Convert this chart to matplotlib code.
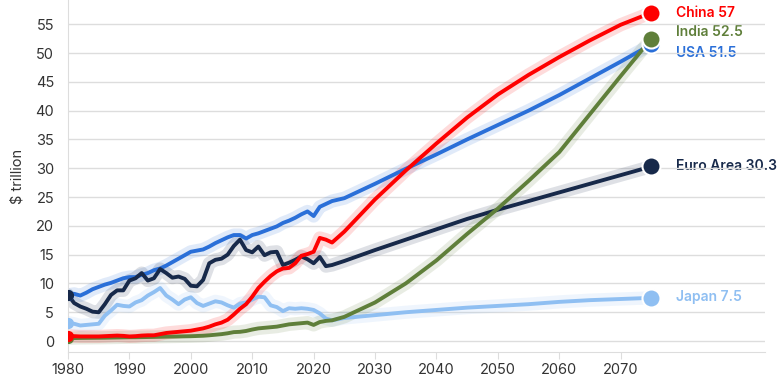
import numpy as np
from matplotlib import pyplot as plt

# Real GDP, $ trillion: history 1980-2023, projections every 5 years to 2075
histYears = list(range(1980, 2024))
projYears = [2025, 2030, 2035, 2040, 2045, 2050, 2055, 2060, 2065, 2070, 2075]

usaHist = [8.0, 8.2, 7.9, 8.4, 9.0, 9.4, 9.8, 10.1, 10.5, 10.9, 11.1, 11.1, 11.5, 11.8, 12.3,
           12.6, 13.1, 13.7, 14.3, 14.9, 15.5, 15.7, 15.9, 16.4, 17.0, 17.5, 18.0, 18.4, 18.4,
           17.8, 18.4, 18.7, 19.1, 19.5, 19.9, 20.5, 20.9, 21.4, 22.0, 22.5, 21.7, 23.3, 23.8, 24.3]
usaProj = [24.8, 27.3, 29.9, 32.4, 35.0, 37.5, 40.0, 42.7, 45.6, 48.5, 51.5]

euroHist = [8.0, 6.6, 6.0, 5.6, 5.1, 5.0, 6.4, 8.0, 8.8, 8.8, 10.5, 10.9, 11.8, 10.5, 10.9,
            12.5, 11.8, 11.0, 11.2, 10.8, 9.6, 9.5, 10.6, 13.5, 14.1, 14.3, 15.0, 16.5, 17.6,
            15.8, 15.4, 16.4, 14.9, 15.4, 15.5, 13.2, 13.6, 14.1, 14.7, 14.2, 13.5, 14.6, 13.0, 13.2]
euroProj = [13.9, 15.8, 17.6, 19.4, 21.2, 22.8, 24.3, 25.8, 27.3, 28.8, 30.3]

chinaHist = [0.9, 0.85, 0.8, 0.8, 0.8, 0.8, 0.85, 0.9, 0.95, 0.9, 0.8, 0.85, 0.95, 1.0, 1.0,
             1.2, 1.4, 1.5, 1.6, 1.7, 1.8, 2.0, 2.2, 2.5, 2.9, 3.2, 3.7, 4.6, 5.6, 6.4, 7.7,
             9.2, 10.3, 11.3, 12.1, 12.6, 12.7, 13.5, 14.8, 15.1, 15.5, 17.9, 17.6, 17.1]
chinaProj = [19.0, 24.6, 29.6, 34.3, 38.8, 42.8, 46.2, 49.3, 52.2, 54.9, 57.0]

indiaHist = [0.5, 0.52, 0.54, 0.55, 0.56, 0.57, 0.58, 0.6, 0.62, 0.64, 0.66, 0.66, 0.68, 0.7,
             0.72, 0.74, 0.76, 0.78, 0.8, 0.82, 0.84, 0.88, 0.92, 1.0, 1.1, 1.2, 1.35, 1.55,
             1.6, 1.75, 2.0, 2.2, 2.3, 2.4, 2.5, 2.7, 2.9, 3.0, 3.1, 3.2, 2.8, 3.3, 3.5, 3.6]
indiaProj = [4.2, 6.7, 10.0, 14.0, 18.6, 23.0, 27.8, 32.8, 39.4, 46.0, 52.5]

japanHist = [3.2, 3.0, 2.7, 2.8, 2.9, 3.0, 4.4, 5.3, 6.3, 6.1, 6.0, 6.7, 7.1, 7.9, 8.5, 9.2,
             7.9, 7.2, 6.4, 7.2, 7.6, 6.6, 6.1, 6.5, 6.9, 6.7, 6.2, 5.8, 6.5, 6.7, 7.2, 7.7,
             7.6, 6.2, 5.9, 5.2, 5.7, 5.6, 5.7, 5.6, 5.4, 4.8, 3.9, 3.6]
japanProj = [4.0, 4.5, 5.0, 5.4, 5.8, 6.1, 6.4, 6.8, 7.1, 7.3, 7.5]

names = ['Japan', 'USA', 'Euro Area', 'India', 'China']
colors = ['#8fbff2', '#2a6fd8', '#17294a', '#5f7f3a', '#fe0000']
series = [(japanHist, japanProj), (usaHist, usaProj), (euroHist, euroProj),
          (indiaHist, indiaProj), (chinaHist, chinaProj)]
# vertical nudges so the end labels don't overlap
labelNudge = {'Japan': 0.1, 'USA': -1.5, 'Euro Area': 0.1, 'India': 1.1, 'China': 0.0}

plt.rcParams['font.family'] = ['Inter', 'DejaVu Sans']

fig = plt.figure(figsize=(7.77, 3.88), dpi=100)
ax = fig.add_axes([68 / 777, 36 / 388, 697 / 777, 352 / 388])

for name, color, (hist, proj) in zip(names, colors, series):
    x = histYears + projYears
    y = hist + proj
    ax.plot(x, y, color=color, lw=9.5, alpha=0.14, solid_capstyle='round',
            solid_joinstyle='round', zorder=2)
    ax.plot(x, y, color=color, lw=2.8, solid_joinstyle='round', zorder=3)
    ax.plot(x[0], y[0], 'o', color=color, ms=7, zorder=4)
    ax.plot(x[-1], y[-1], 'o', color=color, ms=13, mec='white', mew=1.5, zorder=5)
    val = y[-1]
    ax.text(2079, val + labelNudge[name], f'{name} {val:g}', color=color, fontsize=10,
            fontweight='semibold', va='center', ha='left', zorder=0.4)

ax.set_xlim(1980, 2093.5)
ax.set_ylim(-1.9, 59.2)
ax.set_yticks(np.arange(0, 56, 5))
ax.set_xticks(np.arange(1980, 2071, 10))
ax.grid(axis='y', color='#dddddd', lw=1)
ax.set_axisbelow(True)
for s in ['top', 'right']:
    ax.spines[s].set_visible(False)
ax.spines['left'].set_color('#dddddd')
ax.spines['bottom'].set_color('#dddddd')
ax.tick_params(axis='y', length=0, pad=10, labelsize=10.5, labelcolor='#333333')
ax.tick_params(axis='x', length=5, color='#dddddd', labelsize=10.5, labelcolor='#333333', pad=3)
ax.set_ylabel('$ trillion', fontsize=10.5, color='#333333', labelpad=8)

fig.savefig('out.png', dpi=100)
